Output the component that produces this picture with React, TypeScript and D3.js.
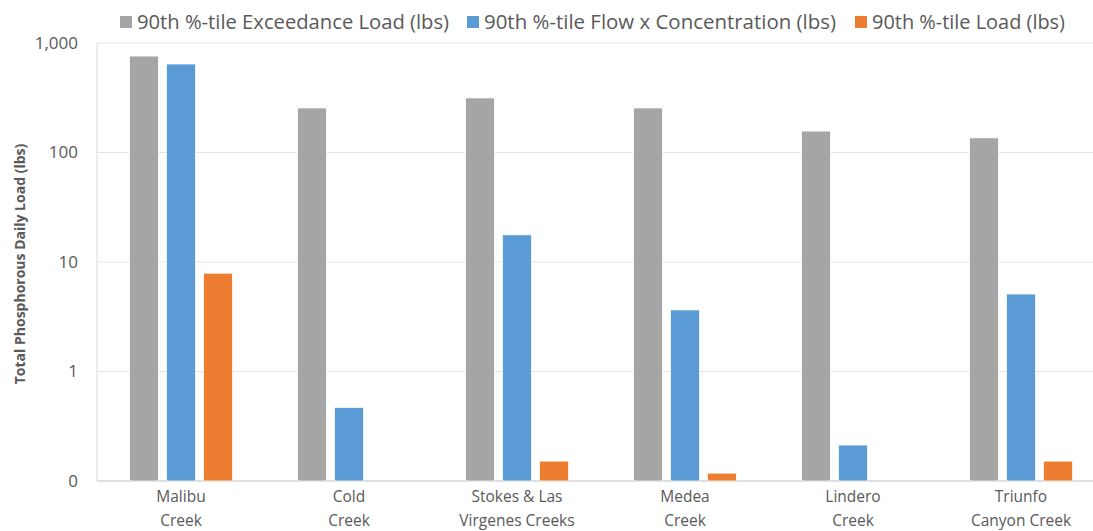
import React from "react";
import * as d3 from "d3";

const categories = [
  ["Malibu", "Creek"],
  ["Cold", "Creek"],
  ["Stokes & Las", "Virgenes Creeks"],
  ["Medea", "Creek"],
  ["Lindero", "Creek"],
  ["Triunfo", "Canyon Creek"],
];
const seriesNames = [
  "90th %-tile Exceedance Load (lbs)",
  "90th %-tile Flow x Concentration (lbs)",
  "90th %-tile Load (lbs)",
];
const exceedanceLoad = [760, 255, 315, 255, 157, 136];
const flowConc = [643, 0.47, 17.7, 3.65, 0.213, 5.1];
const load90 = [7.9, null, 0.152, 0.118, null, 0.152];
const seriesValues = [exceedanceLoad, flowConc, load90];
const colors = ["#a5a5a5", "#5b9bd5", "#ed7d31"];
const yTicks = [0.1, 1, 10, 100, 1000];
const yTickLabels = ["0", "1", "10", "100", "1,000"];
const yTitle = "Total Phosphorous  Daily Load (lbs)";

const W = 1093;
const H = 531;
const left = 97;
const top = 43;
const bottom = 481;
const right = 1105;
const FONT = "'Open Sans', sans-serif";
const TXT = "#595959";

export default function App() {
  const catKeys = categories.map((c) => c.join(" "));
  const x = d3.scaleBand().domain(catKeys).range([left, right]).paddingInner(0.387).paddingOuter(0.1935);
  const xs = d3.scaleBand().domain(seriesNames).range([0, x.bandwidth()]).paddingInner(8 / 37);
  const y = d3.scaleLog().domain([0.1, 1000]).range([bottom, top]);

  const legendX = [120, 467, 855];
  const legendW = [312, 352, 193];

  return (
    <svg width={W} height={H} style={{ position: "absolute", left: 0, top: 0, background: "#fff" }} fontFamily={FONT}>
      {yTicks.map((t, i) => (
        <line key={"g" + i} x1={left} x2={W} y1={y(t)} y2={y(t)} stroke={i === 0 ? "#bfbfbf" : "#e3e3e3"} strokeWidth={1} />
      ))}
      <line x1={left} x2={left} y1={top} y2={bottom} stroke="#d9d9d9" strokeWidth={1} />
      {seriesValues.map((vals, si) =>
        vals.map((v, ci) =>
          v == null ? null : (
            <rect
              key={si + "-" + ci}
              x={(x(catKeys[ci]) as number) + (xs(seriesNames[si]) as number)}
              y={y(v)}
              width={xs.bandwidth()}
              height={bottom - y(v)}
              fill={colors[si]}
              stroke="#fff"
              strokeWidth={0.75}
            />
          )
        )
      )}
      {yTicks.map((t, i) => (
        <text key={"t" + i} x={78} y={y(t)} dy="0.35em" textAnchor="end" fontSize={17} fill={TXT}>
          {yTickLabels[i]}
        </text>
      ))}
      <text
        transform={`translate(25,${(top + bottom) / 2 + 2}) rotate(-90)`}
        textAnchor="middle"
        fontSize={14}
        fontWeight="bold"
        fill={TXT}
      >
        {yTitle}
      </text>
      {categories.map((c, ci) => (
        <text key={"x" + ci} x={(x(catKeys[ci]) as number) + x.bandwidth() / 2} y={502} textAnchor="middle" fontSize={15.5} fill={TXT}>
          <tspan x={(x(catKeys[ci]) as number) + x.bandwidth() / 2} dy={0}>
            {c[0]}
          </tspan>
          <tspan x={(x(catKeys[ci]) as number) + x.bandwidth() / 2} dy={24}>
            {c[1]}
          </tspan>
        </text>
      ))}
      {seriesNames.map((s, i) => (
        <g key={"l" + i} transform={`translate(${legendX[i]},0)`}>
          <rect x={0} y={16} width={12} height={12} fill={colors[i]} />
          <text x={17} y={22} dy="0.36em" fontSize={19.5} fill={TXT} textLength={legendW[i]} lengthAdjust="spacingAndGlyphs">
            {s}
          </text>
        </g>
      ))}
    </svg>
  );
}
